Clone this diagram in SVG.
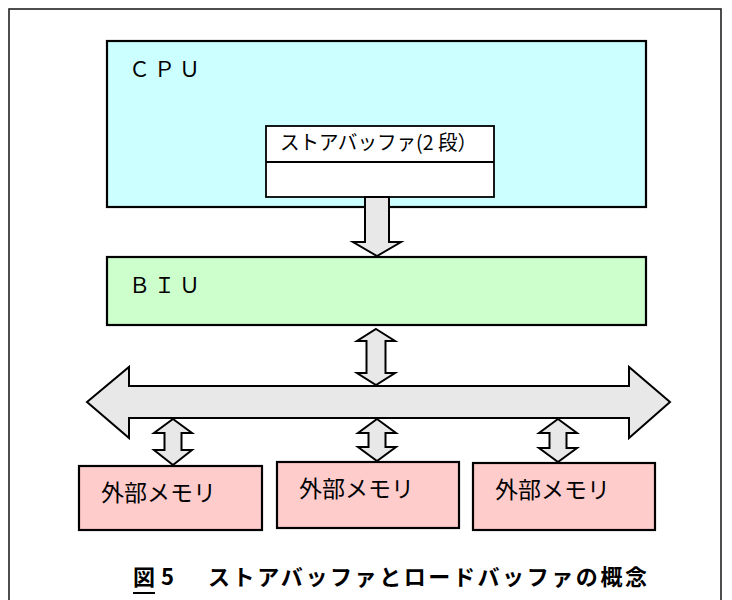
<svg xmlns="http://www.w3.org/2000/svg" width="732" height="600" viewBox="0 0 732 600">
<style>
.box{stroke:#000;stroke-width:2.2}
.arr{fill:#E8E8E8;stroke:#000;stroke-width:2;stroke-linejoin:miter}
.lbl{font-family:"Noto Sans CJK JP","Noto Sans",sans-serif;fill:#000}
.mem{fill:#FFCCCC}
</style>
<rect x="0" y="0" width="732" height="600" fill="#fff"/>
<rect id="frame" x="9" y="9" width="712" height="640" fill="none" stroke="#222" stroke-width="1.6"/>
<g id="cpu">
<rect class="box" x="107" y="41" width="539" height="166" fill="#CCFFFF"/>
<text class="lbl" x="129" y="77" font-size="21" letter-spacing="4">ＣＰＵ</text>
</g>
<g id="storebuffer">
<rect x="266" y="126" width="228" height="71" fill="#fff" stroke="#000" stroke-width="1.8"/>
<line x1="266" y1="162" x2="494" y2="162" stroke="#000" stroke-width="1.8"/>
<text class="lbl" x="280" y="150" font-size="20" textLength="197" lengthAdjust="spacingAndGlyphs">ストアバッファ(2 段）</text>
</g>
<g id="biu">
<rect class="box" x="107" y="257" width="539" height="68" fill="#CCFFCC"/>
<text class="lbl" x="129" y="293" font-size="21" letter-spacing="4">ＢＩＵ</text>
</g>
<g id="mem1">
<rect class="box mem" x="79" y="466" width="183" height="64"/>
<text class="lbl" x="101" y="501" font-size="23">外部メモリ</text>
</g>
<g id="mem2">
<rect class="box mem" x="277" y="462" width="182" height="66"/>
<text class="lbl" x="299" y="497" font-size="23">外部メモリ</text>
</g>
<g id="mem3">
<rect class="box mem" x="473" y="463" width="182" height="67"/>
<text class="lbl" x="495" y="498" font-size="23">外部メモリ</text>
</g>
<g id="connectors">
<path class="arr" d="M365,197 L389,197 L389,242 L401,242 L377,256 L353,242 L365,242 Z"/>
<path id="bus" class="arr" d="M87,402 L129,367 L129,386 L629,386 L629,367 L670,402 L629,438 L629,418 L129,418 L129,438 Z"/>
<path class="arr" d="M376,329 L395,341 L385.5,341 L385.5,373 L395,373 L376,385 L357,373 L366.5,373 L366.5,341 L357,341 Z"/>
<path class="arr" d="M173,419 L192,433 L181.5,433 L181.5,450 L192,450 L173,465 L154,450 L164.5,450 L164.5,433 L154,433 Z"/>
<path class="arr" d="M377,419 L396,433 L385.5,433 L385.5,447 L396,447 L377,461 L358,447 L368.5,447 L368.5,433 L358,433 Z"/>
<path class="arr" d="M558,419 L577,433 L566.5,433 L566.5,448 L577,448 L558,462 L539,448 L549.5,448 L549.5,433 L539,433 Z"/>
</g>
<g id="caption">
<text class="lbl" y="585" font-size="22" font-weight="bold"><tspan x="133">図</tspan><tspan x="161">5</tspan><tspan x="208" textLength="439" lengthAdjust="spacing">ストアバッファとロードバッファの概念</tspan></text>
<line x1="133" y1="593" x2="155" y2="593" stroke="#000" stroke-width="2"/>
</g>
</svg>
